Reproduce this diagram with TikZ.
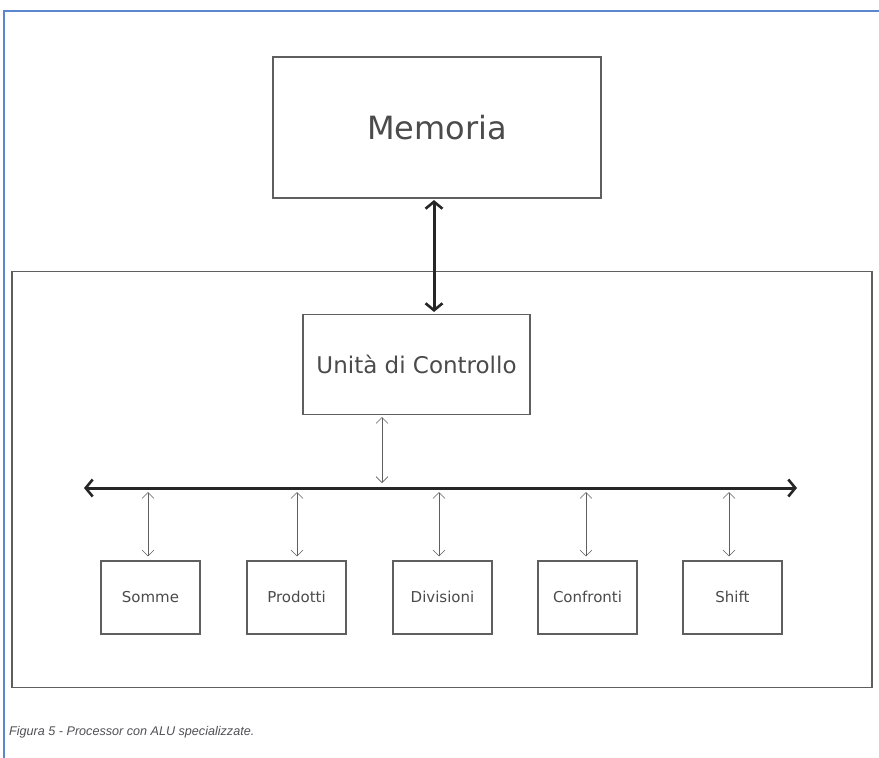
\documentclass[tikz,border=0pt]{standalone}
\usepackage{fontspec}
\setmainfont{DejaVu Sans}
\newfontfamily\capfont{Liberation Sans}
\usetikzlibrary{arrows.meta}
\definecolor{framebl}{RGB}{90,135,205}
\definecolor{boxline}{RGB}{95,95,95}
\definecolor{txt}{RGB}{75,75,75}
\definecolor{captxt}{RGB}{80,80,85}
\tikzset{
  box/.style={draw=boxline, line width=1.1pt, inner sep=0pt, text=txt},
  thickarrow/.style={draw=black!85, line width=3pt,
    {Straight Barb[length=7pt,width=17pt,line width=2.6pt]}-{Straight Barb[length=7pt,width=17pt,line width=2.6pt]}},
  thinarrow/.style={draw=boxline, line width=0.8pt,
    {Straight Barb[length=6pt,width=12pt,line width=0.6pt]}-{Straight Barb[length=6pt,width=12pt,line width=0.6pt]}},
  alu/.style={box, minimum width=99pt, minimum height=73pt, text height=1em, text depth=0em, font=\fontsize{15}{17}\selectfont}
}
\begin{document}
\begin{tikzpicture}[x=1pt,y=-1pt]
\useasboundingbox (0,0) rectangle (879,758);
\fill[white] (0,0) rectangle (879,758);
% blue frame
\draw[framebl, line width=2.4pt] (4,758) -- (4,11) -- (879,11);
% boxes
\node[box, minimum width=328pt, minimum height=141pt, font=\fontsize{32}{36}\selectfont] (mem) at (437,127.5) {Memoria};
\node[box, minimum width=860pt, minimum height=416pt] (cpu) at (442,479.5) {};
\node[box, minimum width=227pt, minimum height=100pt, font=\fontsize{23}{26}\selectfont] (ctl) at (416.5,364.5) {Unità di Controllo};
\node[alu] (s1) at (150.5,597.5) {Somme};
\node[alu] (s2) at (296.5,597.5) {Prodotti};
\node[alu] (s3) at (442.5,597.5) {Divisioni};
\node[alu] (s4) at (587.5,597.5) {Confronti};
\node[alu] (s5) at (732.5,597.5) {Shift};
% bus
\coordinate (busL) at (84,488);
\coordinate (busR) at (797,488);
\draw[thickarrow] (busL) -- (busR);
% memory <-> control
\draw[thickarrow, shorten <=1.5pt, shorten >=2pt] ([xshift=-3pt]mem.south) -- ([xshift=-3pt]mem.south |- ctl.north);
% control <-> bus
\draw[thinarrow, shorten <=2pt, shorten >=5pt] ([xshift=-34.5pt]ctl.south) -- ([xshift=-34.5pt]ctl.south |- busL);
% bus <-> ALUs
\foreach \n/\dx in {s1/-2.5,s2/0.5,s3/-3.5,s4/-1.5,s5/-3.5}{
  \draw[thinarrow, shorten <=4pt, shorten >=4pt] ([xshift=\dx pt]\n.north |- busL) -- ([xshift=\dx pt]\n.north);
}
% caption
\node[anchor=west, inner sep=0pt, text=captxt, font=\capfont\itshape\fontsize{12.6}{14}\selectfont] (cap) at (9,732) {Figura 5 - Processor con ALU specializzate.};
\end{tikzpicture}
\end{document}
